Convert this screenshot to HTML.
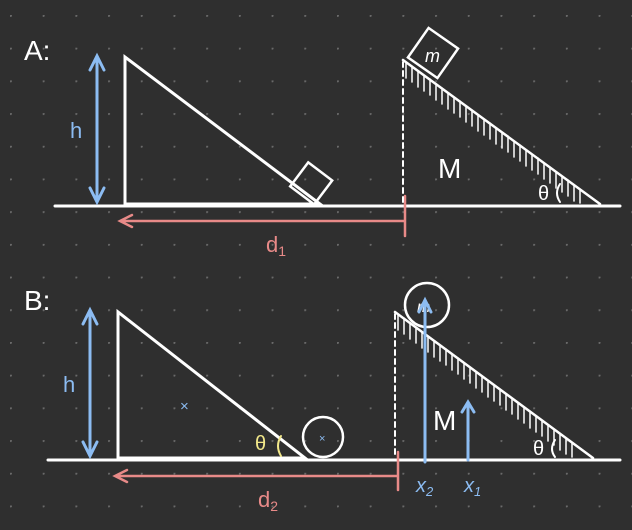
<!DOCTYPE html>
<html><head><meta charset="utf-8"><style>
html,body{margin:0;padding:0;background:#2f2f2f;}
svg{display:block;}
text{font-family:"Liberation Sans",sans-serif;}
</style></head><body>
<svg width="632" height="530" viewBox="0 0 632 530">
<defs>
<pattern id="dots" x="10" y="15" width="32.7" height="32.7" patternUnits="userSpaceOnUse">
<circle cx="0.8" cy="0.8" r="1.2" fill="#6a6a6a"/>
</pattern>
</defs>
<rect width="632" height="530" fill="#2f2f2f"/>
<rect width="632" height="530" fill="url(#dots)"/>

<!-- Part A -->
<g stroke-linecap="round" fill="none">
<text x="24" y="60" fill="#fff" stroke="none" font-size="28">A:</text>
<line x1="55" y1="206" x2="620" y2="206" stroke="#fff" stroke-width="3"/>
<path d="M125 57 L125 204 L320 204 Z" stroke="#fff" stroke-width="3"/>
<rect x="296" y="162" width="30" height="30" transform="rotate(37 311 177) translate(4 5)" stroke="#fff" stroke-width="2.5"/>
<path d="M97 60 L97 198 M90 70 L97 56 L104 70 M90 188 L97 202 L104 188" stroke="#8cbcf2" stroke-width="3"/>
<text x="70" y="138" fill="#8cbcf2" stroke="none" font-size="22">h</text>
<path d="M405 221 L122 221 M132 215 L120 221 L132 227 M405 196 L405 236" stroke="#e88a88" stroke-width="2.5"/>
<text x="266" y="252" fill="#e88a88" stroke="none" font-size="22">d<tspan font-size="14" dy="4">1</tspan></text>
<line x1="403" y1="62" x2="403" y2="204" stroke="#fff" stroke-width="2" stroke-dasharray="5 4"/>
<line x1="403" y1="60" x2="600" y2="204" stroke="#fff" stroke-width="2.5"/>
<path d="M406 62 L406 78 M412 66 L412 82 M418 71 L418 87 M424 75 L424 91 M430 79 L430 95 M436 84 L436 100 M442 88 L442 104 M448 93 L448 109 M454 97 L454 113 M460 101 L460 117 M466 106 L466 122 M472 110 L472 126 M478 115 L478 131 M484 119 L484 135 M490 123 L490 139 M496 128 L496 144 M502 132 L502 148 M508 136 L508 152 M514 141 L514 157 M520 145 L520 161 M526 150 L526 166 M532 154 L532 170 M538 158 L538 174 M544 163 L544 179 M550 167 L550 183 M556 172 L556 188 M562 176 L562 192 M568 180 L568 196 M574 185 L574 201 M580 189 L580 203" stroke="#fff" stroke-width="1.5"/>
<rect x="415" y="35" width="36" height="36" transform="rotate(35 433 53)" stroke="#fff" stroke-width="2.5"/>
<text x="425" y="62" fill="#fff" stroke="none" font-size="18" font-style="italic">m</text>
<text x="438" y="178" fill="#fff" stroke="none" font-size="28">M</text>
<text x="538" y="200" fill="#fff" stroke="none" font-size="20">θ</text>
<path d="M560 184 Q554 193 560 202" stroke="#fff" stroke-width="2"/>
</g>

<!-- Part B -->
<g stroke-linecap="round" fill="none">
<text x="24" y="310" fill="#fff" stroke="none" font-size="28">B:</text>
<line x1="48" y1="460" x2="620" y2="460" stroke="#fff" stroke-width="3"/>
<path d="M118 312 L118 458 L305 458 Z" stroke="#fff" stroke-width="3"/>
<circle cx="323" cy="437" r="20" stroke="#fff" stroke-width="2.5"/>
<text x="319" y="442" fill="#8cbcf2" stroke="none" font-size="11">×</text>
<text x="180" y="411" fill="#8cbcf2" stroke="none" font-size="15">×</text>
<path d="M90 314 L90 452 M83 324 L90 310 L97 324 M83 442 L90 456 L97 442" stroke="#8cbcf2" stroke-width="3"/>
<text x="63" y="392" fill="#8cbcf2" stroke="none" font-size="22">h</text>
<text x="255" y="450" fill="#f2e88a" stroke="none" font-size="20">θ</text>
<path d="M281 436 Q275 446 281 456" stroke="#f2e88a" stroke-width="2"/>
<path d="M398 476 L117 476 M127 470 L115 476 L127 482 M398 452 L398 490" stroke="#e88a88" stroke-width="2.5"/>
<text x="258" y="507" fill="#e88a88" stroke="none" font-size="22">d<tspan font-size="14" dy="4">2</tspan></text>
<line x1="395" y1="314" x2="395" y2="458" stroke="#fff" stroke-width="2" stroke-dasharray="5 4"/>
<line x1="395" y1="312" x2="593" y2="458" stroke="#fff" stroke-width="2.5"/>
<path d="M398 314 L398 330 M404 318 L404 334 M410 323 L410 339 M416 327 L416 343 M422 332 L422 348 M428 336 L428 352 M434 341 L434 357 M440 345 L440 361 M446 349 L446 365 M452 354 L452 370 M458 358 L458 374 M464 363 L464 379 M470 367 L470 383 M476 372 L476 388 M482 376 L482 392 M488 381 L488 397 M494 385 L494 401 M500 389 L500 405 M506 394 L506 410 M512 398 L512 414 M518 403 L518 419 M524 407 L524 423 M530 412 L530 428 M536 416 L536 432 M542 420 L542 436 M548 425 L548 441 M554 429 L554 445 M560 434 L560 450 M566 438 L566 454 M572 443 L572 457" stroke="#fff" stroke-width="1.5"/>
<circle cx="427" cy="305" r="22" stroke="#fff" stroke-width="2.5"/>
<text x="417" y="312" fill="#fff" stroke="none" font-size="16" font-style="italic">m</text>
<path d="M425 462 L425 302 M419 312 L425 300 L431 312" stroke="#8cbcf2" stroke-width="3"/>
<path d="M468 460 L468 404 M462 412 L468 402 L474 412" stroke="#8cbcf2" stroke-width="3"/>
<text x="416" y="492" fill="#8cbcf2" stroke="none" font-size="20" font-style="italic">x<tspan font-size="13" dy="4">2</tspan></text>
<text x="464" y="492" fill="#8cbcf2" stroke="none" font-size="20" font-style="italic">x<tspan font-size="13" dy="4">1</tspan></text>
<text x="433" y="430" fill="#fff" stroke="none" font-size="28">M</text>
<text x="533" y="455" fill="#fff" stroke="none" font-size="20">θ</text>
<path d="M555 440 Q549 449 555 457" stroke="#fff" stroke-width="2"/>
</g>
</svg>
</body></html>
